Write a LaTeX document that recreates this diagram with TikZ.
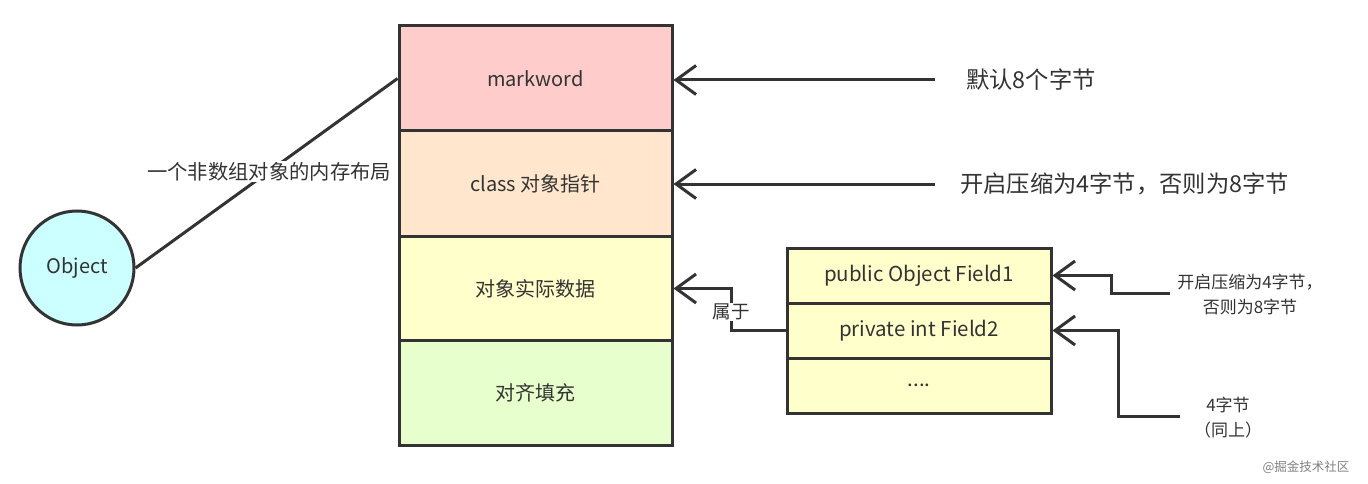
\documentclass[tikz,border=0pt]{standalone}
\usepackage{fontspec}
\setmainfont{Noto Sans CJK SC}
\usetikzlibrary{arrows.meta}
\definecolor{ln}{HTML}{333333}
\definecolor{cpink}{HTML}{FFCCCC}
\definecolor{corange}{HTML}{FFE6CC}
\definecolor{cyellow}{HTML}{FFFFCC}
\definecolor{cgreen}{HTML}{E6FFCC}
\definecolor{ccyan}{HTML}{CCFFFF}
\begin{document}
\begin{tikzpicture}[x=1pt,y=-1pt,
  cell/.style={draw=ln, line width=3pt, minimum width=273pt, minimum height=105pt, inner sep=0pt, text=ln, font=\fontsize{20}{23}\selectfont},
  fcell/.style={draw=ln, line width=3pt, fill=cyellow, minimum width=264pt, minimum height=55pt, inner sep=0pt, text=ln, font=\fontsize{20.5}{23}\selectfont},
  conn/.style={draw=ln, line width=3pt},
  arr/.style={conn, -{Straight Barb[length=20pt,width=29pt,line width=3pt]}},
  big/.style={text=ln, inner sep=0pt, font=\fontsize{23.3}{27}\selectfont},
  small/.style={text=ln, inner sep=0pt, align=center, font=\fontsize{17}{25}\selectfont}
]
\useasboundingbox (0,0) rectangle (1368,484);
\fill[white] (0,0) rectangle (1368,484);

% main memory layout
\node[cell, fill=cpink]   (c1) at (535.5,78.5)  {markword};
\node[cell, fill=corange] (c2) at (535.5,183.5) {class 对象指针};
\node[cell, fill=cyellow] (c3) at (535.5,288.5) {对象实际数据};
\node[cell, fill=cgreen]  (c4) at (535.5,393)   {对齐填充};

% object circle
\node[circle, draw=ln, line width=3pt, fill=ccyan, minimum size=114pt, inner sep=0pt, text=ln, font=\fontsize{20}{23}\selectfont] (obj) at (77,268) {Object};
\draw[conn] (obj.east) -- node[pos=0.51, fill=white, inner sep=1pt, text=ln, font=\fontsize{20.3}{25}\selectfont] (lbl) {一个非数组对象的内存布局} (c1.west);

% right labels
\node[big, anchor=west] (t1) at (966,80) {默认8个字节};
\node[big, anchor=west] (t2) at (960,184) {开启压缩为4字节，否则为8字节};
\coordinate (a1) at (935,80);
\coordinate (a2) at (935,184);
\draw[arr] (a1) -- (c1.east |- a1);
\draw[arr] (a2) -- (c2.east |- a2);

% field box
\node[fcell] (f1) at (919,275.5) {public Object Field1};
\node[fcell] (f2) at (919,330.5) {private int Field2};
\node[fcell] (f3) at (919,385.5) {....};

% belongs-to connector
\coordinate (k) at (731,0);
\draw[arr] (f2.west) -| (k |- c3.east) -- (c3.east);
\node[fill=white, inner sep=1pt, text=ln, font=\fontsize{18.5}{22}\selectfont] (sh) at (731,312) {属于};

% right field annotations
\node[small] (t3) at (1250,294) {开启压缩为4字节，\\否则为8字节};
\node[small] (t4) at (1228,418) {4字节\\（同上）};
\coordinate (r1) at (1170,293);
\coordinate (r2) at (1180,416);
\coordinate (k1) at (1111,0);
\coordinate (k2) at (1118,0);
\draw[arr] (r1) -- (k1 |- r1) |- (f1.east);
\draw[arr] (r2) -- (k2 |- r2) |- (f2.east);

% watermark
\node[text=gray, inner sep=0pt, font=\fontsize{12.5}{14}\selectfont] (wm) at (1306,467) {@掘金技术社区};
\end{tikzpicture}
\end{document}
